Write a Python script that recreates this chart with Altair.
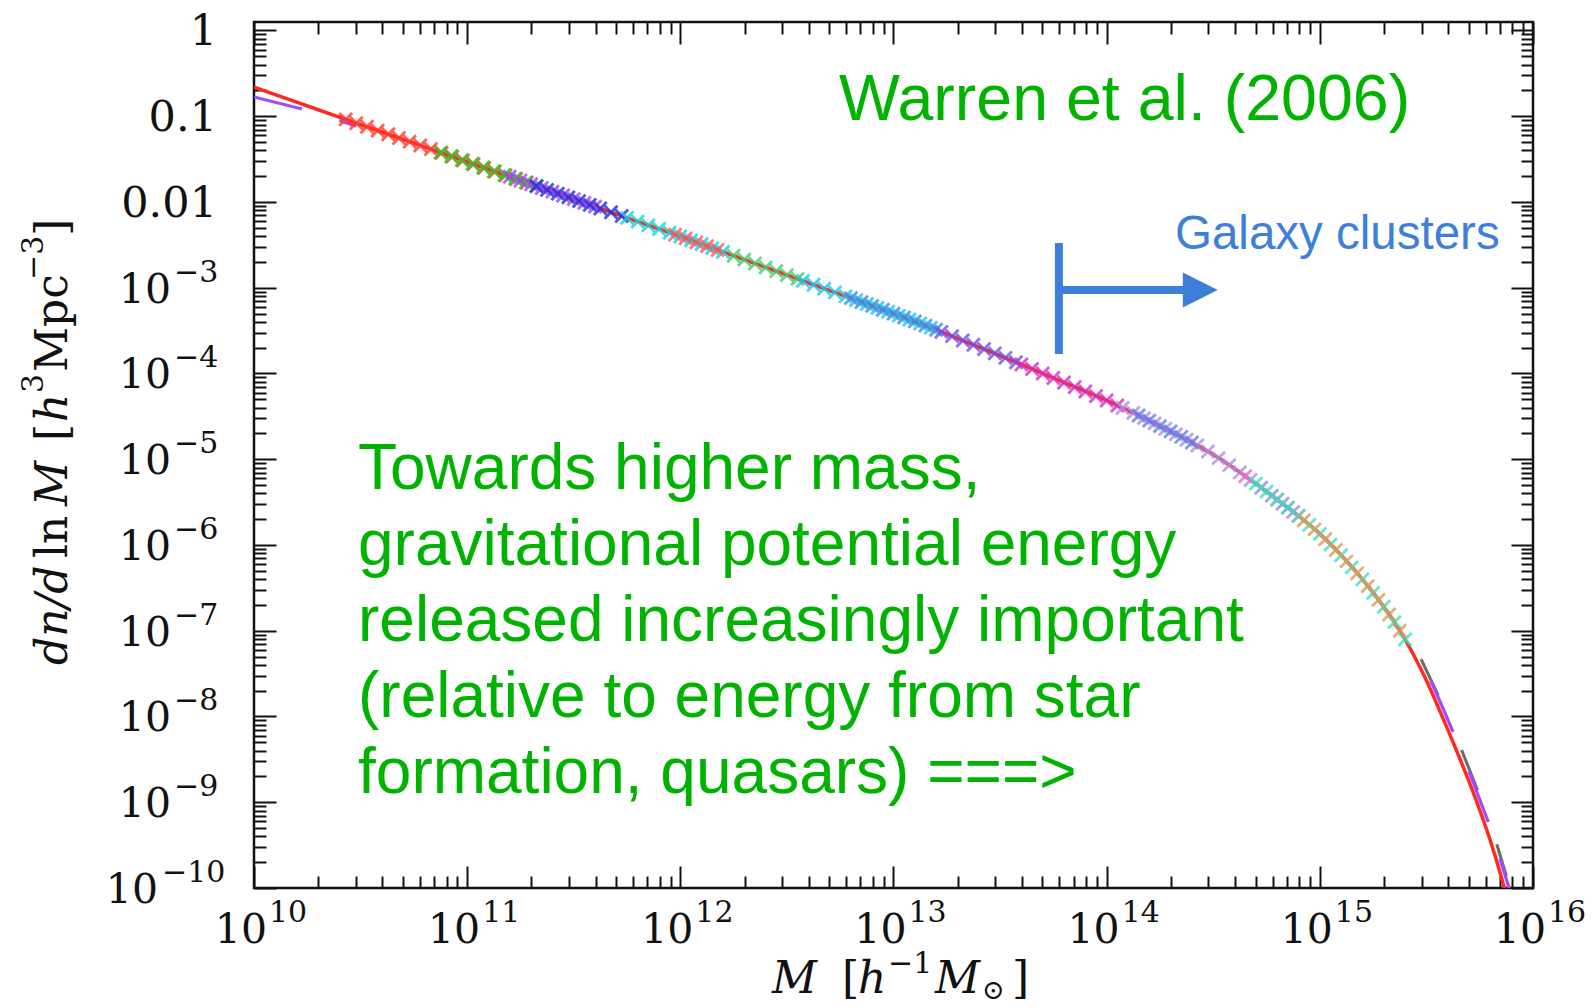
import altair as alt
import numpy as np
import pandas as pd

# ---------------- data (log10 M, log10 dn/dlnM) ----------------
fit_logm = [10.0, 10.2, 10.4, 10.6, 10.8, 11.0, 11.2, 11.4, 11.6, 11.8, 12.0, 12.2, 12.4, 12.6, 12.8,
            13.0, 13.2, 13.4, 13.6, 13.8, 14.0, 14.1, 14.2, 14.3, 14.4, 14.5, 14.6, 14.7, 14.8, 14.9,
            15.0, 15.1, 15.2, 15.3, 15.35, 15.4, 15.45, 15.5, 15.55, 15.6, 15.65, 15.7, 15.75, 15.8,
            15.85, 15.87]
fit_logn = [-0.662, -0.836, -1.010, -1.184, -1.358, -1.532, -1.706, -1.880, -2.054, -2.228, -2.402,
            -2.582, -2.762, -2.942, -3.122, -3.302, -3.490, -3.690, -3.895, -4.105, -4.315, -4.430,
            -4.550, -4.675, -4.805, -4.945, -5.110, -5.285, -5.470, -5.660, -5.870, -6.120, -6.400,
            -6.720, -6.900, -7.100, -7.330, -7.580, -7.860, -8.150, -8.450, -8.760, -9.090, -9.450,
            -9.860, -10.04]

# purple long-dashed curve (visible dashes only)
purple_seg = [0, 0, 1, 1, 2, 2, 2, 3, 3, 4, 4]
purple_logm = [10.0, 10.225, 10.40, 10.48, 15.52, 15.57, 15.625, 15.70, 15.79, 15.845, 15.90]
purple_logn = [-0.775, -0.915, -1.050, -1.115, -7.58, -7.86, -8.18, -8.64, -9.23, -9.66, -10.10]

# grey dashed curve (visible dashes only)
grey_seg = [0, 0, 1, 1, 2, 2, 3, 3, 4, 4, 5, 5]
grey_logm = [14.08, 14.17, 14.20, 14.33, 14.39, 14.49, 15.475, 15.555, 15.665, 15.74, 15.83, 15.875]
grey_logn = [-4.407, -4.514, -4.550, -4.714, -4.792, -4.931, -7.33, -7.75, -8.39, -8.86, -9.49, -9.86]

# simulation points (one pair of lists per run)
run_a_m = [10.43, 10.48, 10.53, 10.58, 10.63, 10.68, 10.73, 10.78, 10.83, 10.88, 10.93, 10.98, 11.03, 11.08, 11.13, 11.18, 11.23, 11.28]
run_a_n = [-1.036, -1.080, -1.123, -1.167, -1.210, -1.254, -1.297, -1.341, -1.384, -1.428, -1.471, -1.515, -1.558, -1.602, -1.645, -1.689, -1.732, -1.776]
run_c_m = [10.875, 10.925, 10.975, 11.025, 11.075, 11.125, 11.175, 11.225, 11.275, 11.325]
run_c_n = [-1.424, -1.467, -1.511, -1.554, -1.598, -1.641, -1.685, -1.728, -1.772, -1.815]
run_b_m = [11.20, 11.25, 11.30, 11.35, 11.40, 11.45, 11.50, 11.55, 11.60]
run_b_n = [-1.706, -1.750, -1.793, -1.837, -1.880, -1.924, -1.967, -2.011, -2.054]
run_d_m = [11.325, 11.375, 11.425, 11.475, 11.525, 11.575, 11.625, 11.675, 11.725]
run_d_n = [-1.815, -1.859, -1.902, -1.946, -1.989, -2.033, -2.076, -2.120, -2.163]
run_e_m = [11.75, 11.80, 11.85, 11.90, 11.95, 12.00, 12.05, 12.10, 12.15, 12.20]
run_e_n = [-2.185, -2.228, -2.272, -2.315, -2.359, -2.402, -2.447, -2.492, -2.537, -2.582]
run_f_m = [11.975, 12.025, 12.075, 12.125, 12.175]
run_f_n = [-2.381, -2.425, -2.470, -2.515, -2.560]
run_g_m = [12.25, 12.30, 12.35, 12.40, 12.45, 12.50, 12.55]
run_g_n = [-2.627, -2.672, -2.717, -2.762, -2.807, -2.852, -2.897]
run_e2_m = [12.575, 12.625, 12.675, 12.725, 12.775, 12.825, 12.875, 12.925, 12.975, 13.025, 13.075, 13.125, 13.175]
run_e2_n = [-2.920, -2.965, -3.010, -3.055, -3.100, -3.145, -3.190, -3.235, -3.280, -3.325, -3.370, -3.417, -3.466]
run_h_m = [12.80, 12.85, 12.90, 12.95, 13.00, 13.05, 13.10, 13.15, 13.20]
run_h_n = [-3.122, -3.167, -3.212, -3.257, -3.302, -3.347, -3.392, -3.441, -3.490]
run_i_m = [13.225, 13.275, 13.325, 13.375, 13.425, 13.475, 13.525, 13.575]
run_i_n = [-3.515, -3.565, -3.615, -3.665, -3.715, -3.765, -3.817, -3.869]
run_j_m = [13.60, 13.65, 13.70, 13.75, 13.80, 13.85, 13.90, 13.95, 14.00, 14.05]
run_j_n = [-3.895, -3.948, -4.000, -4.053, -4.105, -4.158, -4.210, -4.263, -4.315, -4.373]
run_k_m = [14.075, 14.125, 14.175, 14.225, 14.275, 14.325, 14.375, 14.425, 14.475, 14.525, 14.575, 14.625, 14.675]
run_k_n = [-4.402, -4.460, -4.520, -4.582, -4.644, -4.708, -4.773, -4.840, -4.910, -4.987, -5.069, -5.154, -5.242]
run_l_m = [14.15, 14.20, 14.25, 14.30, 14.35, 14.40]
run_l_n = [-4.490, -4.550, -4.613, -4.675, -4.740, -4.805]
run_o_m = [14.65, 14.80, 14.85, 14.90]
run_o_n = [-5.198, -5.470, -5.565, -5.660]
run_p_m = [14.725, 14.775, 14.825, 14.875]
run_p_n = [-5.332, -5.424, -5.518, -5.613]
run_m_m = [14.70, 14.75, 14.80, 14.85, 14.90, 14.95, 15.00, 15.05, 15.10, 15.15, 15.20, 15.25, 15.30, 15.35, 15.40]
run_m_n = [-5.285, -5.378, -5.470, -5.565, -5.660, -5.765, -5.870, -5.995, -6.120, -6.260, -6.400, -6.560, -6.720, -6.900, -7.100]
run_n_m = [14.925, 14.975, 15.025, 15.075, 15.125, 15.175, 15.225, 15.275, 15.325, 15.375]
run_n_n = [-5.713, -5.818, -5.933, -6.058, -6.190, -6.330, -6.480, -6.640, -6.810, -7.000]

# galaxy-cluster arrow (data units)
bar_m = [5.97e13, 5.97e13]
bar_n = [3.33e-3, 1.69e-4]
shaft_m = [5.97e13, 2.36e14]
shaft_n = [9.41e-4, 9.41e-4]
head_m = [2.75e14]
head_n = [9.41e-4]

# axis ticks / labels
x_major = [1e10, 1e11, 1e12, 1e13, 1e14, 1e15, 1e16]
x_exp = ["10", "11", "12", "13", "14", "15", "16"]
y_major = [1e-10, 1e-9, 1e-8, 1e-7, 1e-6, 1e-5, 1e-4, 1e-3, 1e-2, 1e-1, 1.0]
y_dec_vals = [1.0, 0.1, 0.01]
y_dec_text = ["1", "0.1", "0.01"]
y_exp_vals = [1e-3, 1e-4, 1e-5, 1e-6, 1e-7, 1e-8, 1e-9, 1e-10]
y_exp_text = ["\u22123", "\u22124", "\u22125", "\u22126", "\u22127", "\u22128", "\u22129", "\u221210"]

# ---------------- styles ----------------
runs = [
    ("a", run_a_m, run_a_n, "#ff3b2f"),
    ("c", run_c_m, run_c_n, "#2fc72f"),
    ("b", run_b_m, run_b_n, "#9b45ff"),
    ("d", run_d_m, run_d_n, "#1f30e0"),
    ("e", run_e_m, run_e_n, "#14d4e4"),
    ("f", run_f_m, run_f_n, "#ff5a5a"),
    ("g", run_g_m, run_g_n, "#45cc75"),
    ("e2", run_e2_m, run_e2_n, "#1ccbe8"),
    ("h", run_h_m, run_h_n, "#3b8cf0"),
    ("i", run_i_m, run_i_n, "#6f4ff0"),
    ("j", run_j_m, run_j_n, "#d22fc4"),
    ("k", run_k_m, run_k_n, "#ac8fea"),
    ("l", run_l_m, run_l_n, "#5d80f2"),
    ("o", run_o_m, run_o_n, "#f06cc6"),
    ("p", run_p_m, run_p_n, "#8f8cf0"),
    ("m", run_m_m, run_m_n, "#3fe2bf"),
    ("n", run_n_m, run_n_n, "#dc9c58"),
]

W, H = 1279, 866
INK = "#111111"
SERIF = "DejaVu Serif"
SANS = "Liberation Sans"
GREEN = "#00b300"
BLUE = "#3e7fd8"

XS = alt.Scale(type="log", domain=[1e10, 1e16], nice=False)
YS = alt.Scale(type="log", domain=[1e-10, 1.256], nice=False)

x_minor = [k * 10.0 ** e for e in range(10, 16) for k in range(2, 10)]
y_minor = [k * 10.0 ** e for e in range(-10, 0) for k in range(2, 10)]


def tick_axis(orient, values, length):
    return alt.Axis(orient=orient, values=values, tickSize=length, offset=-length,
                    labels=False, domain=False, grid=False, ticks=True, title=None,
                    tickColor=INK, tickWidth=2)


# ---------------- frames ----------------
fit_df = pd.DataFrame({"M": np.power(10.0, fit_logm), "n": np.power(10.0, fit_logn)})
purple_df = pd.DataFrame({"M": np.power(10.0, purple_logm), "n": np.power(10.0, purple_logn), "s": purple_seg})
grey_df = pd.DataFrame({"M": np.power(10.0, grey_logm), "n": np.power(10.0, grey_logn), "s": grey_seg})

frames = []
for name, lm, ln, _ in runs:
    frames.append(pd.DataFrame({"M": np.power(10.0, lm), "n": np.power(10.0, ln), "run": name}))
pts_df = pd.concat(frames, ignore_index=True)
pts_df["order"] = range(len(pts_df))

XMARK = "M-1,-1L1,1M-1,1L1,-1"

grey_layer = alt.Chart(grey_df).mark_line(color="#6a6a6a", strokeWidth=3, clip=True, strokeCap="butt").encode(
    x=alt.X("M:Q", scale=XS, axis=tick_axis("top", x_minor, 12)),
    y=alt.Y("n:Q", scale=YS, axis=tick_axis("right", y_minor, 12)),
    detail="s:N",
)
purple_layer = alt.Chart(purple_df).mark_line(color="#9b4dff", strokeWidth=3.2, clip=True, strokeCap="butt").encode(
    x=alt.X("M:Q", scale=XS, axis=tick_axis("top", x_major, 22)),
    y=alt.Y("n:Q", scale=YS, axis=tick_axis("right", y_major, 22)),
    detail="s:N",
)
fit_layer = alt.Chart(fit_df).mark_line(color="#ff2a1f", strokeWidth=3.5, interpolate="monotone", clip=True).encode(
    x=alt.X("M:Q", scale=XS, axis=tick_axis("bottom", x_major, 22)),
    y=alt.Y("n:Q", scale=YS, axis=tick_axis("left", y_major, 22)),
)
pts_layer = alt.Chart(pts_df).mark_point(shape=XMARK, filled=False, size=165, strokeWidth=2.8,
                                         opacity=0.8, clip=True).encode(
    x=alt.X("M:Q", scale=XS, axis=tick_axis("bottom", x_minor, 12)),
    y=alt.Y("n:Q", scale=YS, axis=tick_axis("left", y_minor, 12)),
    color=alt.Color("run:N", scale=alt.Scale(domain=[r[0] for r in runs], range=[r[3] for r in runs]), legend=None),
    order=alt.Order("order:Q"),
)

# arrow
bar_layer = alt.Chart(pd.DataFrame({"M": bar_m, "n": bar_n})).mark_line(
    color=BLUE, strokeWidth=8, strokeCap="butt").encode(
    x=alt.X("M:Q", scale=XS, axis=None), y=alt.Y("n:Q", scale=YS, axis=None))
shaft_layer = alt.Chart(pd.DataFrame({"M": shaft_m, "n": shaft_n})).mark_line(
    color=BLUE, strokeWidth=8, strokeCap="butt").encode(
    x=alt.X("M:Q", scale=XS, axis=None), y=alt.Y("n:Q", scale=YS, axis=None))
head_layer = alt.Chart(pd.DataFrame({"M": head_m, "n": head_n})).mark_point(
    shape="M-1,-1L1,0L-1,1Z", filled=True, size=1225, color=BLUE, opacity=1).encode(
    x=alt.X("M:Q", scale=XS, axis=None), y=alt.Y("n:Q", scale=YS, axis=None))

# tick labels
xlab_df = pd.DataFrame({"M": x_major, "e": x_exp})
xbase = alt.Chart(xlab_df).mark_text(font=SERIF, fontSize=41, align="right", baseline="alphabetic",
                                     dx=13, color=INK).encode(
    x=alt.X("M:Q", scale=XS, axis=None), y=alt.value(921), text=alt.value("10"))
xexpo = alt.Chart(xlab_df).mark_text(font=SERIF, fontSize=30, align="left", baseline="alphabetic",
                                     dx=15, color=INK).encode(
    x=alt.X("M:Q", scale=XS, axis=None), y=alt.value(900), text="e:N")

ydec_df = pd.DataFrame({"n": y_dec_vals, "t": y_dec_text})
ydec = alt.Chart(ydec_df).mark_text(font=SERIF, fontSize=43, align="right", baseline="alphabetic",
                                    dy=15, color=INK).encode(
    y=alt.Y("n:Q", scale=YS, axis=None), x=alt.value(-37), text="t:N")
yexp_df = pd.DataFrame({"n": y_exp_vals, "t": y_exp_text})
yexpo1 = alt.Chart(yexp_df).transform_filter(alt.datum.n > 5e-10).mark_text(
    font=SERIF, fontSize=30, align="left", baseline="alphabetic", dy=-6, color=INK).encode(
    y=alt.Y("n:Q", scale=YS, axis=None), x=alt.value(-80), text="t:N")
yexpo2 = alt.Chart(yexp_df).transform_filter(alt.datum.n < 5e-10).mark_text(
    font=SERIF, fontSize=30, align="left", baseline="alphabetic", dy=-6, color=INK).encode(
    y=alt.Y("n:Q", scale=YS, axis=None), x=alt.value(-92), text="t:N")
ybase1 = alt.Chart(yexp_df).transform_filter(alt.datum.n > 5e-10).mark_text(
    font=SERIF, fontSize=41, align="right", baseline="alphabetic", dy=15, color=INK).encode(
    y=alt.Y("n:Q", scale=YS, axis=None), x=alt.value(-83), text=alt.value("10"))
ybase2 = alt.Chart(yexp_df).transform_filter(alt.datum.n < 5e-10).mark_text(
    font=SERIF, fontSize=41, align="right", baseline="alphabetic", dy=15, color=INK).encode(
    y=alt.Y("n:Q", scale=YS, axis=None), x=alt.value(-96), text=alt.value("10"))

one = pd.DataFrame({"k": [0]})


def piece(text, x, y, size, style="normal", angle=0, font=SERIF, color=INK, align="left", **kw):
    return alt.Chart(one).mark_text(font=font, fontSize=size, fontStyle=style, angle=angle,
                                    align=align, baseline="alphabetic", color=color, **kw).encode(
        x=alt.value(x), y=alt.value(y), text=alt.value(text))


# x-axis title  M [h^-1 M_sun]   (plot coordinates: full - (254, 22))
xt = [
    piece("M", 772 - 254, 971, 44, "italic"),
    piece("[", 842 - 254, 971, 44),
    piece("h", 858 - 254, 971, 44, "italic"),
    piece("\u22121", 888 - 254, 951, 30),
    piece("M", 935 - 254, 971, 44, "italic"),
    piece("\u2299", 982 - 254, 977, 27),
    piece("]", 1012 - 254, 971, 44),
]
# y-axis title  dn/dlnM [h^3 Mpc^-3], rotated
YB = 67 - 254
yt = [
    piece("dn/d", YB, 665 - 22, 44, "italic", angle=270),
    piece("ln", YB, 558 - 22, 44, angle=270),
    piece("M", YB, 506 - 22, 44, "italic", angle=270),
    piece("[", YB, 441 - 22, 44, angle=270),
    piece("h", YB, 422 - 22, 44, "italic", angle=270),
    piece("3", YB - 24, 393 - 22, 30, angle=270),
    piece("Mpc", YB, 372 - 22, 44, angle=270),
    piece("\u22123", YB - 24, 280 - 22, 30, angle=270),
    piece("]", YB, 236 - 22, 44, angle=270),
]

notes = [
    piece("Warren et al. (2006)", 585, 98, 64.5, font=SANS, color=GREEN),
    piece("Galaxy clusters", 921, 227, 47.5, font=SANS, color=BLUE),
    alt.Chart(one).mark_text(font=SANS, fontSize=64, align="left", baseline="alphabetic",
                             color=GREEN, lineHeight=76).encode(
        x=alt.value(104), y=alt.value(467),
        text=alt.value(["Towards higher mass,",
                        "gravitational potential energy",
                        "released increasingly important",
                        "(relative to energy from star",
                        "formation, quasars) ===>"])),
]

chart = alt.layer(
    grey_layer, purple_layer, fit_layer, pts_layer,
    bar_layer, shaft_layer, head_layer,
    xbase, xexpo, ydec, yexpo1, yexpo2, ybase1, ybase2,
    *xt, *yt, *notes,
).resolve_axis(x="independent", y="independent").properties(
    width=W, height=H,
    padding={"left": 254, "top": 22, "right": 62, "bottom": 120},
    autosize=alt.AutoSizeParams(type="none"),
    background="white",
).configure_view(stroke=INK, strokeWidth=2.5)

chart.save("out.html", embed_options={"renderer": "svg", "actions": False})
